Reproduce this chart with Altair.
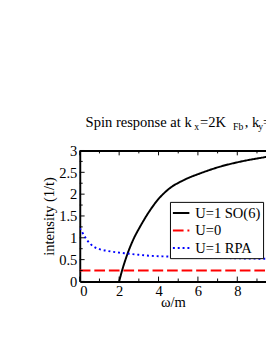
import altair as alt
import pandas as pd

# ---- data ----
series_names = ["U=1 SO(6)", "U=0", "U=1 RPA"]

omega_so6 = [2.0, 2.13, 2.43, 2.76, 3.02, 3.51, 4.0, 4.5, 5.32, 6.14, 7.13, 8.11, 9.42, 10.0]
val_so6 = [0.0, 0.22, 0.64, 1.0, 1.22, 1.59, 1.89, 2.11, 2.33, 2.48, 2.63, 2.74, 2.85, 2.9]

omega_u0 = [0.0, 10.0]
val_u0 = [0.25, 0.25]

omega_rpa = [0.0, 0.06, 0.23, 0.4, 0.7, 1.0, 1.4, 2.0, 2.4, 3.0, 3.5, 4.5, 6.0, 8.0, 9.5, 10.0]
val_rpa = [1.22, 1.18, 1.04, 0.93, 0.8, 0.74, 0.70, 0.66, 0.64, 0.61, 0.59, 0.57, 0.55, 0.53, 0.52, 0.52]

x_labels = [0, 2, 4, 6, 8]
x_minor = [1, 3, 5, 7, 9]
y_labels = [0, 0.5, 1, 1.5, 2, 2.5, 3]
y_minor = [0.25, 0.75, 1.25, 1.75, 2.25, 2.75]

title_parts = ["Spin response at k", "x", "=2K", "Fb", ", k", "y", "="]
title_is_sub = [False, True, False, True, False, True, False]

# ---- layout ----
W, H = 192, 135
PX_PER_UNIT = 20.3
XMAX = W / PX_PER_UNIT
FONT = "Liberation Serif"

rows = []
for name, xs, ys in [(series_names[0], omega_so6, val_so6),
                     (series_names[1], omega_u0, val_u0),
                     (series_names[2], omega_rpa, val_rpa)]:
    for i, (a, b) in enumerate(zip(xs, ys)):
        rows.append({"series": name, "omega": a, "val": b, "order": i})
df = pd.DataFrame(rows)

xscale = alt.Scale(domain=[0, XMAX], nice=False, zero=False)
yscale = alt.Scale(domain=[0, 3], nice=False)

leg = alt.Legend(title=None, orient="none", legendX=93, legendY=53,
                 strokeColor="black", fillColor="white", padding=2,
                 rowPadding=-1, symbolType="stroke", symbolStrokeWidth=2,
                 symbolSize=289, labelFont=FONT, labelFontSize=15,
                 labelColor="black", labelOffset=5, labelLimit=200)

lines = alt.Chart(df).mark_line(strokeWidth=2, clip=True, strokeCap="butt",
                                interpolate="monotone").encode(
    x=alt.X("omega:Q", scale=xscale,
            axis=alt.Axis(values=x_labels, ticks=False, domainWidth=2, domainColor="black",
                          labelFont=FONT, labelFontSize=15, labelColor="black", labelPadding=2,
                          title="ω/m", titleFont=FONT, titleFontSize=15, titleFontWeight="normal",
                          titleColor="black", titlePadding=-3, grid=False)),
    y=alt.Y("val:Q", scale=yscale,
            axis=alt.Axis(values=y_labels, ticks=False, domainWidth=2, domainColor="black",
                          labelFont=FONT, labelFontSize=15, labelColor="black", labelPadding=3,
                          labelExpr="datum.value",
                          title="intensity (1/t)", titleFont=FONT, titleFontSize=15,
                          titleFontWeight="normal", titleColor="black", titlePadding=2, grid=False)),
    color=alt.Color("series:N", sort=series_names,
                    scale=alt.Scale(domain=series_names, range=["#000000", "#ff0000", "#0000ff"]),
                    legend=leg),
    strokeDash=alt.StrokeDash("series:N", sort=series_names,
                              scale=alt.Scale(domain=series_names, range=[[1, 0], [11, 4], [2, 3]]),
                              legend=leg),
    order="order:Q",
)

xmaj = pd.DataFrame({"pos": x_labels})
xmin = pd.DataFrame({"pos": x_minor})
ymaj = pd.DataFrame({"pos": y_labels})
ymin = pd.DataFrame({"pos": y_minor})

def xtick(d, y0, y1, axis=None):
    return alt.Chart(d).mark_rule(color="black", strokeWidth=1).encode(
        x=alt.X("pos:Q", scale=xscale, axis=axis), y=alt.value(y0), y2=alt.value(y1))

def ytick(d, x0, x1):
    return alt.Chart(d).mark_rule(color="black", strokeWidth=1).encode(
        y=alt.Y("pos:Q", scale=yscale, axis=None), x=alt.value(x0), x2=alt.value(x1))

top_axis = alt.Axis(orient="top", labels=False, ticks=False, domainWidth=2,
                    domainColor="black", title=None, grid=False)

ticks = [
    xtick(xmaj, H, H - 5),
    xtick(xmin, H, H - 3),
    xtick(xmaj, 0, 5, axis=top_axis),
    xtick(xmin, 0, 3),
    ytick(ymaj, 0, 5),
    ytick(ymin, 0, 3),
]

# title pieces (subscripts smaller and lowered), one text mark per piece
title_x = [6, 118, 124, 158, 170, 184, 189]
title_layers = []
for t, px, sub in zip(title_parts, title_x, title_is_sub):
    d = pd.DataFrame({"t": [t]})
    title_layers.append(
        alt.Chart(d).mark_text(align="left", baseline="alphabetic", font=FONT,
                               fontSize=10 if sub else 15, color="black").encode(
            x=alt.value(px), y=alt.value(-21 if sub else -24), text="t:N"))

chart = alt.layer(lines, *ticks, *title_layers).resolve_axis(
    x="independent", y="independent").properties(
    width=W, height=H,
    autosize=alt.AutoSizeParams(type="none"),
    padding={"left": 74, "top": 142, "right": 0, "bottom": 40},
).configure(font=FONT).configure_view(stroke=None)

chart.save("out.html", embed_options={"renderer": "svg", "actions": False})
